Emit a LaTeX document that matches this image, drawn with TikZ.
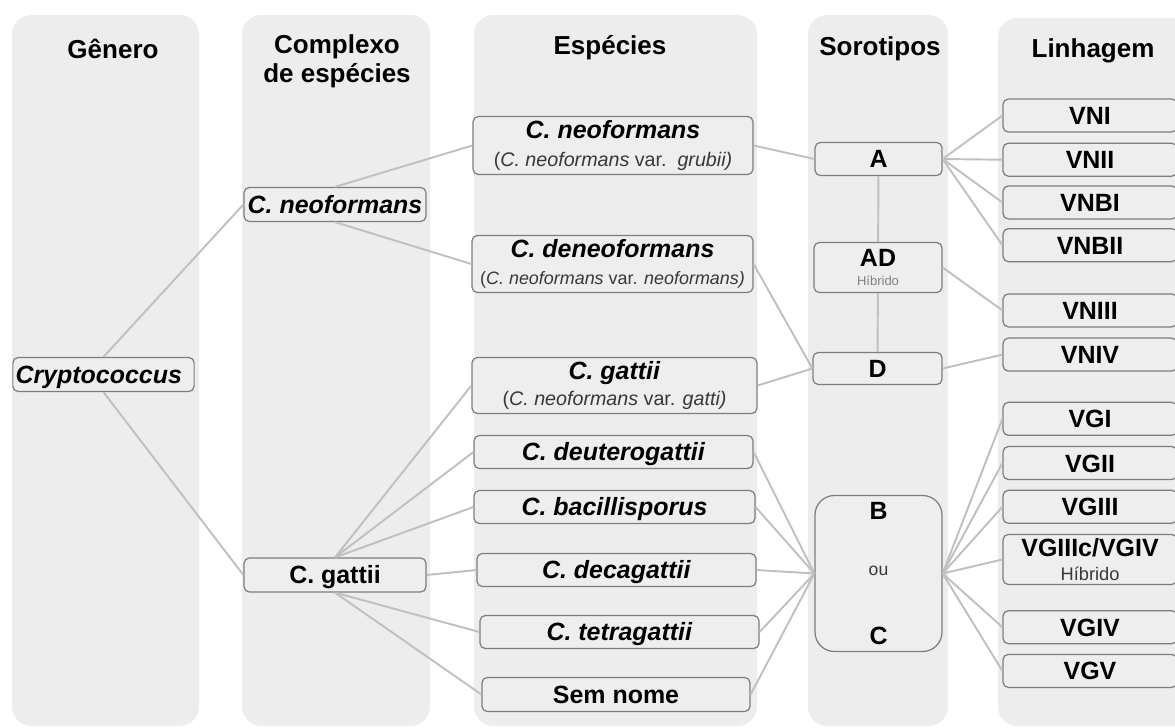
\documentclass[tikz,border=0pt]{standalone}
\usepackage{fontspec}
\setmainfont{Liberation Sans}
\definecolor{lanegray}{RGB}{237,237,237}
\definecolor{boxfill}{RGB}{238,238,238}
\definecolor{boxline}{RGB}{125,125,125}
\definecolor{linkgray}{RGB}{192,192,192}
\definecolor{subtext}{RGB}{55,55,55}
\usetikzlibrary{positioning}
\tikzset{
  lane/.style={fill=lanegray,rounded corners=11pt},
  head/.style={font=\fontsize{14.8}{14.2}\selectfont\bfseries,align=center},
  cell/.style={rectangle,rounded corners=3pt,draw=boxline,line width=0.7pt,
               fill=boxfill,minimum width=#1,minimum height=0.68cm,
               inner sep=1pt,align=center},
  cell/.default=3.64cm,
  box/.style={cell=#1,text height=10.2pt,text depth=0pt,
              font=\fontsize{14.2}{16}\selectfont\bfseries},
  box/.default=3.64cm,
  tallbox/.style={cell=#1,font=\fontsize{14.2}{15.3}\selectfont\bfseries},
  tallbox/.default=5.62cm,
  lin/.style={box=3.48cm,minimum height=0.66cm},
  link/.style={draw=linkgray,line width=1.1pt},
}

\begin{document}
\begin{tikzpicture}[x=0.02cm,y=-0.02cm,node distance=0.2cm]
  \path[use as bounding box] (0,0) rectangle (1175,727);
  \clip (0,0) rectangle (1175,727);

  % columns
  \fill[lane] (12,15) rectangle (199,726);
  \fill[lane] (242,15) rectangle (430,726);
  \fill[lane] (474,15) rectangle (757,726);
  \fill[lane] (808,15) rectangle (948,726);
  \fill[lane] (998,18) rectangle (1200,726);

  \node[head,anchor=base] (hgen) at (113,58) {Gênero};
  \node[head] (hcomp) at (337,61) {Complexo\\[2.5pt]de espécies};
  \node[head,anchor=base] (hesp) at (610,54) {Espécies};
  \node[head,anchor=base] (hsoro) at (880,55) {Sorotipos};
  \node[head,anchor=base] (hlin) at (1093,57) {Linhagem};

  % genero / complexo
  \node[box=3.62cm,text width=3.52cm,align=left,inner xsep=1.5pt] (crypto)
      at (103.5,374.5) {\textit{Cryptococcus}};
  \node[box] (cneo) at (335,204.5) {\textit{C. neoformans}};
  \node[box] (cgat) at (335,575) {C. gattii};

  % especies
  \node[tallbox=5.6cm,minimum height=1.16cm] (spneo) at (613,145.5)
      {\textit{C. neoformans}\\[1pt]{\fontsize{11.2}{13}\selectfont\mdseries\color{subtext}(\textit{C. neoformans} var.\ \ \textit{grubii)}}};
  \node[tallbox=5.62cm,minimum height=1.14cm] (spdeneo) at (612.5,264)
      {\textit{C. deneoformans}\\{\fontsize{10.2}{12}\selectfont\mdseries\color{subtext}(\textit{C. neoformans} var. \textit{neoformans)}}};
  \node[tallbox=5.7cm,minimum height=1.12cm] (spgat) at (614.5,385.5)
      {\textit{C. gattii}\\{\fontsize{11.2}{13}\selectfont\mdseries\color{subtext}(\textit{C. neoformans} var. \textit{gatti)}}};
  \node[box=5.58cm,minimum height=0.66cm] (spdeut) at (613.5,452) {\textit{C. deuterogattii}};
  \node[box=5.62cm,minimum height=0.66cm] (spbac) at (614.5,507) {\textit{C. bacillisporus}};
  \node[box=5.58cm,minimum height=0.66cm] (spdeca) at (616.5,570) {\textit{C. decagattii}};
  \node[box=5.58cm,minimum height=0.66cm] (sptetra) at (619.5,632) {\textit{C. tetragattii}};
  \node[box=5.36cm] (spsem) at (616,694.5) {Sem nome};

  % sorotipos
  \node[box=2.54cm,minimum height=0.66cm] (sA) at (878.5,159) {A};
  \node[tallbox=2.56cm,minimum height=1.0cm,font=\fontsize{14.2}{10.8}\selectfont\bfseries]
      (sAD) at (878,267.5) {AD\\{\fontsize{7.4}{8}\selectfont\mdseries\color{gray}Híbrido}};
  \node[box=2.58cm,minimum height=0.64cm] (sD) at (877.5,368.5) {D};
  \node[tallbox=2.54cm,minimum height=3.12cm,rounded corners=11pt,
        font=\fontsize{14.2}{14}\selectfont\bfseries] (sBC) at (878.5,573.5)
      {B\\[18.3pt]{\fontsize{10}{12}\selectfont\mdseries\color{subtext}ou}\\[25.1pt]C};

  % linhagens
  \node[lin] (VNI) at (1090,115.5) {VNI};
  \node[lin,below=of VNI] (VNII) {VNII};
  \node[lin,below=0.17cm of VNII] (VNBI) {VNBI};
  \node[lin,below=0.17cm of VNBI] (VNBII) {VNBII};
  \node[lin,below=0.62cm of VNBII] (VNIII) {VNIII};
  \node[lin,below=of VNIII] (VNIV) {VNIV};
  \node[lin,below=0.6cm of VNIV] (VGI) {VGI};
  \node[lin,below=of VGI] (VGII) {VGII};
  \node[lin,below=0.19cm of VGII] (VGIII) {VGIII};
  \node[tallbox=3.48cm,minimum height=1.0cm,font=\fontsize{14.2}{13.6}\selectfont\bfseries,
        below=of VGIII] (VGIIIc) {VGIIIc/VGIV\\{\fontsize{10.4}{12}\selectfont\mdseries\color{subtext}Híbrido}};
  \node[lin,below=0.5cm of VGIIIc] (VGIV) {VGIV};
  \node[lin,below=0.19cm of VGIV] (VGV) {VGV};

  \foreach \a/\b in {crypto.north/cneo.west,crypto.south/cgat.west,
                     cneo.north/spneo.west,cneo.south/spdeneo.west,
                     cgat.north/spgat.west,cgat.north/spdeut.west,cgat.north/spbac.west,
                     cgat.east/spdeca.west,cgat.south/sptetra.west,cgat.south/spsem.west}
    \draw[link] (\a) -- (\b);

  \foreach \a/\b in {spneo/sA,spdeneo/sD,spgat/sD,spdeut/sBC,spbac/sBC,
                     spdeca/sBC,sptetra/sBC,spsem/sBC}
    \draw[link] (\a.east) -- (\b.west);

  \draw[link] (sA) -- (sAD);
  \draw[link] (sAD) -- (sD);

  \foreach \a/\b in {sA/VNI,sA/VNII,sA/VNBI,sA/VNBII,sAD/VNIII,sD/VNIV,
                     sBC/VGI,sBC/VGII,sBC/VGIII,sBC/VGIIIc,sBC/VGIV,sBC/VGV}
    \draw[link] (\a.east) -- (\b.west);

\end{tikzpicture}
\end{document}
